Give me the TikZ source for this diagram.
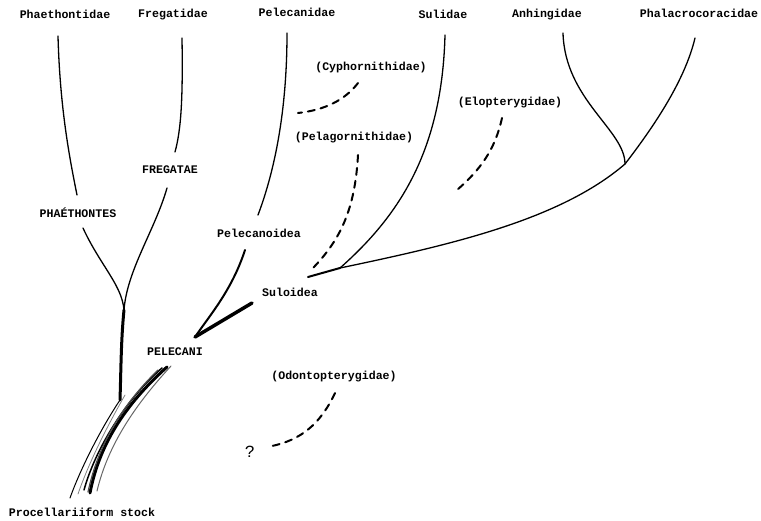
\documentclass[tikz,border=0pt]{standalone}
\usepackage{fontspec}
\setmonofont{Liberation Mono}

\begin{document}
\begin{tikzpicture}[x=1pt,y=-1pt,line cap=round]
		\tikzstyle{every node}+=[inner sep=0pt,font=\fontsize{11.6}{13}\selectfont\ttfamily\bfseries]
		\tikzstyle{branch}=[black,line width=1.3pt]
		\tikzstyle{fossil}=[black,line width=2pt,dash pattern=on 7pt off 6pt]
		\useasboundingbox (0,0) rectangle (761,520);
		% labels
		\node (phaethontidae) at (65,14) {Phaethontidae};
		\node (fregatidae) at (173,15) {Fregatidae};
		\node (pelecanidae) at (297,12) {Pelecanidae};
		\node (sulidae) at (443,14) {Sulidae};
		\node (anhingidae) at (547,15) {Anhingidae};
		\node (phalacro) at (699,13) {Phalacrocoracidae};
		\node (cyphorn) at (371,67) {(Cyphornithidae)};
		\node (elopt) at (510,103) {(Elopterygidae)};
		\node (pelagorn) at (354,138) {(Pelagornithidae)};
		\node (phaethontes) at (78,213) {PHAÉTHONTES};
		\node (fregatae) at (170,170) {FREGATAE};
		\node (pelecanoidea) at (259,233) {Pelecanoidea};
		\node (suloidea) at (290,292) {Suloidea};
		\node (pelecani) at (175,352) {PELECANI};
		\node (odontopt) at (334,377) {(Odontopterygidae)};
		\node [font=\fontsize{17}{18}\selectfont\ttfamily] (query) at (250,452) {?};
		\node (stock) at (82,512) {Procellariiform stock};
		% junctions and free ends
		\coordinate (jphae) at (124,310);
		\coordinate (jpel) at (195,337);
		\coordinate (jsul) at (308,277);
		\coordinate (ksul) at (340,268);
		\coordinate (jphal) at (625,164);
		\coordinate (base) at (120,400);
		% Phaethontes and Fregatae
		\draw [branch] (58,36) .. controls (60,110) and (70,160) .. (77,195);
		\draw [branch] (83,228) .. controls (100,265) and (122,285) .. (jphae);
		\draw [branch] (182,38) .. controls (183,100) and (181,130) .. (175,152);
		\draw [branch] (167,188) .. controls (155,230) and (127,270) .. (jphae);
		\draw [black,line width=3pt] (jphae) .. controls (121,340) and (121,370) .. (base);
		% Pelecanoidea and Suloidea
		\draw [branch] (287,33) .. controls (287,110) and (275,170) .. (258,215);
		\draw [black,line width=2pt] (245,250) .. controls (232,290) and (210,315) .. (jpel);
		\draw [black,line width=3.5pt] (252,303) -- (jpel);
		\draw [branch] (445,35) .. controls (442,150) and (400,215) .. (ksul);
		\draw [black,line width=2pt] (jsul) -- (ksul);
		\draw [branch] (ksul) .. controls (450,245) and (560,220) .. (jphal);
		\draw [branch] (jphal) .. controls (655,125) and (685,80) .. (695,38);
		\draw [branch] (563,33) .. controls (565,100) and (625,130) .. (jphal);
		% fossil families
		\draw [fossil] (358,83) .. controls (345,100) and (325,110) .. (298,113);
		\draw [fossil] (358,155) .. controls (355,210) and (340,240) .. (313,268);
		\draw [fossil] (502,118) .. controls (495,150) and (480,170) .. (457,190);
		\draw [fossil] (335,393) .. controls (320,425) and (300,440) .. (272,446);
		% stock
		\draw [black,line width=3pt] (167,367) .. controls (130,400) and (100,440) .. (90,493);
		\draw [black,line width=1.5pt] (162,368) .. controls (125,400) and (95,450) .. (84,490);
		\draw [black!60,line width=1pt] (171,366) .. controls (135,405) and (108,445) .. (97,491);
		\draw [black!70,line width=1.2pt] (158,370) .. controls (122,405) and (98,445) .. (88,492);
		\draw [black,line width=1pt] (base) .. controls (100,430) and (80,470) .. (70,498);
		\draw [black!50,line width=0.8pt] (125,395) .. controls (105,430) and (88,465) .. (78,494);
\end{tikzpicture}
\end{document}
